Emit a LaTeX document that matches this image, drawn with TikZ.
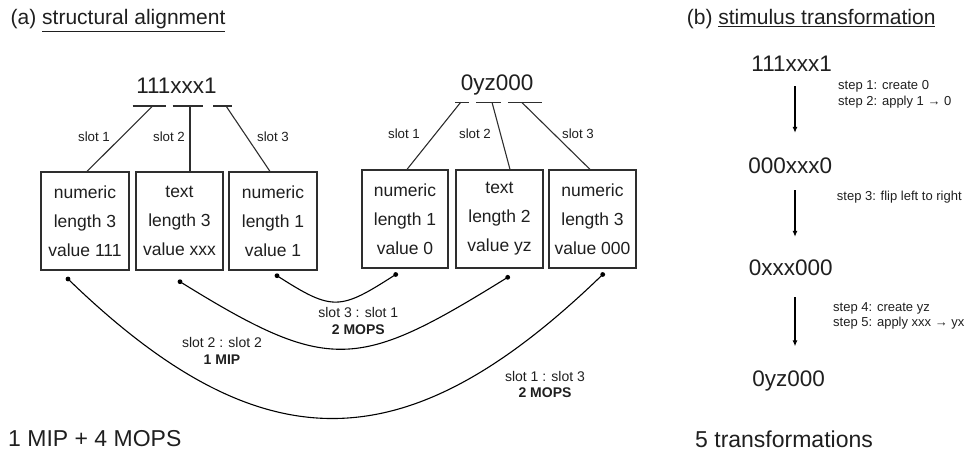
\documentclass[tikz,border=0pt]{standalone}
\usepackage{fontspec}
\setmainfont{Liberation Sans}
\usetikzlibrary{arrows.meta}

\definecolor{ink}{gray}{0.12}
\definecolor{rule}{gray}{0.18}

\newcommand\fsz[1]{\fontsize{#1}{#1}\selectfont}

\tikzset{
  title/.style={anchor=base west, inner sep=0pt, font=\fsz{21}, text=ink},
  bigstr/.style={anchor=base, inner sep=0pt, text height=16pt, text depth=0pt, font=\fsz{22.5}, text=ink},
  total/.style={anchor=base west, inner sep=0pt, font=\fsz{23}, text=ink},
  slotbox/.style={draw=rule, line width=1.2pt, minimum height=98pt, inner sep=0pt,
    align=center, text=ink, font=\fontsize{17.5}{29}\selectfont},
  slotlbl/.style={inner sep=0pt, font=\fsz{13.3}, text=ink},
  arclbl/.style={inner sep=0pt, align=center, text=ink, font=\fontsize{14}{16.5}\selectfont},
  steplbl/.style={anchor=west, inner sep=0pt, align=left, text=ink, font=\fontsize{13}{15.5}\selectfont},
  seg/.style={draw=rule, line width=1.2pt},
  link/.style={draw=rule, line width=1.1pt},
  dot/.style={circle, fill=black, inner sep=0pt, minimum size=4.8pt},
  match/.style={draw=black, line width=1.1pt},
  arr/.style={draw=black, line width=1.1pt, -{Latex[length=6pt,width=5pt]}},
}

\begin{document}
\begin{tikzpicture}[x=1pt, y=-1pt]
\useasboundingbox (0,0) rectangle (969,452);

% ---------------- (a) structural alignment ----------------
\node[title] (ta) at (10.5,25) {(a) \underline{structural alignment}};

% source and target strings
\node[bigstr] (src) at (176.5,93.3) {111xxx1};
\node[bigstr] (tgt) at (497.2,90) {0yz000};

% slot segments under the strings
\draw[seg] (132.7,106) -- (165.7,106);
\draw[seg] (172.7,106) -- (203,106);
\draw[seg] (213,106) -- (231.7,106);
\draw[seg] (455,102.3) -- (469,102.3);
\draw[seg] (476,102.3) -- (500.7,102.3);
\draw[seg] (508,102.3) -- (542,102.3);
\coordinate (u1) at (152.7,106);
\coordinate (u2) at (190,106);
\coordinate (u3) at (226,106);
\coordinate (u4) at (460.7,102.3);
\coordinate (u5) at (492,102.3);
\coordinate (u6) at (521.7,102.3);

% slot boxes
\node[slotbox, minimum width=88pt] (b1) at (85,221)    {numeric\\length 3\\value 111};
\node[slotbox, minimum width=87pt] (b2) at (179.5,221) {text\\length 3\\value xxx};
\node[slotbox, minimum width=88pt] (b3) at (273,221)   {numeric\\length 1\\value 1};
\node[slotbox, minimum width=86pt] (b4) at (405,219)   {numeric\\length 1\\value 0};
\node[slotbox, minimum width=87pt] (b5) at (499.5,219) {text\\length 2\\value yz};
\node[slotbox, minimum width=87pt] (b6) at (592.5,219) {numeric\\length 3\\value 000};

% segments to boxes
\draw[link] (u1) -- ([xshift=2pt]b1.north);
\draw[link] (u2) -- ([xshift=10.5pt]b2.north);
\draw[link] (u3) -- ([xshift=-3pt]b3.north);
\draw[link] (u4) -- ([xshift=2pt]b4.north);
\draw[link] (u5) -- ([xshift=10.5pt]b5.north);
\draw[link] (u6) -- ([xshift=-2.5pt]b6.north);

\node[slotlbl] (l1) at (94,137)  {slot 1};
\node[slotlbl] (l2) at (169,137) {slot 2};
\node[slotlbl] (l3) at (273,137) {slot 3};
\node[slotlbl] (l4) at (404,134) {slot 1};
\node[slotlbl] (l5) at (475,134) {slot 2};
\node[slotlbl] (l6) at (578,134) {slot 3};

% match ends below the boxes
\node[dot] (d1) at (68,279)      {};
\node[dot] (d2) at (180,281.7)   {};
\node[dot] (d3) at (277,275.7)   {};
\node[dot] (d4) at (395.7,274.5) {};
\node[dot] (d5) at (507.7,277.3) {};
\node[dot] (d6) at (602.7,274.5) {};

% slot correspondences
\draw[match] (d3.center) .. controls +(56,36) and +(-56,36) .. (d4.center);
\draw[match] (d2.center) .. controls +(150,93) and +(-150,93) .. (d5.center);
\draw[match] (d1.center) .. controls +(195,189) and +(-195,189) .. (d6.center);

\node[arclbl] (m1) at (358.3,321) {slot 3 : slot 1\\\textbf{2 MOPS}};
\node[arclbl] (m2) at (222,351)   {slot 2 : slot 2\\\textbf{1 MIP}};
\node[arclbl] (m3) at (545,384.5) {slot 1 : slot 3\\\textbf{2 MOPS}};

\node[total] (sa) at (8,446.7) {1 MIP + 4 MOPS};

% ---------------- (b) stimulus transformation ----------------
\node[title] (tb) at (686.7,25) {(b) \underline{stimulus transformation}};

\node[bigstr] (r1) at (791.7,71.7) {111xxx1};
\node[bigstr] (r2) at (790.3,173.3) {000xxx0};
\node[bigstr] (r3) at (790.7,275)   {0xxx000};
\node[bigstr] (r4) at (788.7,386.5) {0yz000};

\coordinate (ax) at (795,0);
\draw[arr, shorten <=14.3pt, shorten >=24.3pt] (r1.south -| ax) -- (r2.north -| ax);
\draw[arr, shorten <=16.7pt, shorten >=22pt]   (r2.south -| ax) -- (r3.north -| ax);
\draw[arr, shorten <=22pt,   shorten >=24pt]   (r3.south -| ax) -- (r4.north -| ax);

\node[steplbl] (p1) at (838,94.5)  {step 1: create 0\\step 2: apply 1 → 0};
\node[steplbl] (p2) at (836.7,197) {step 3: flip left to right};
\node[steplbl] (p3) at (833,316)   {step 4: create yz\\step 5: apply xxx → yx};

\node[total] (sb) at (695,447) {5 transformations};
\end{tikzpicture}
\end{document}
